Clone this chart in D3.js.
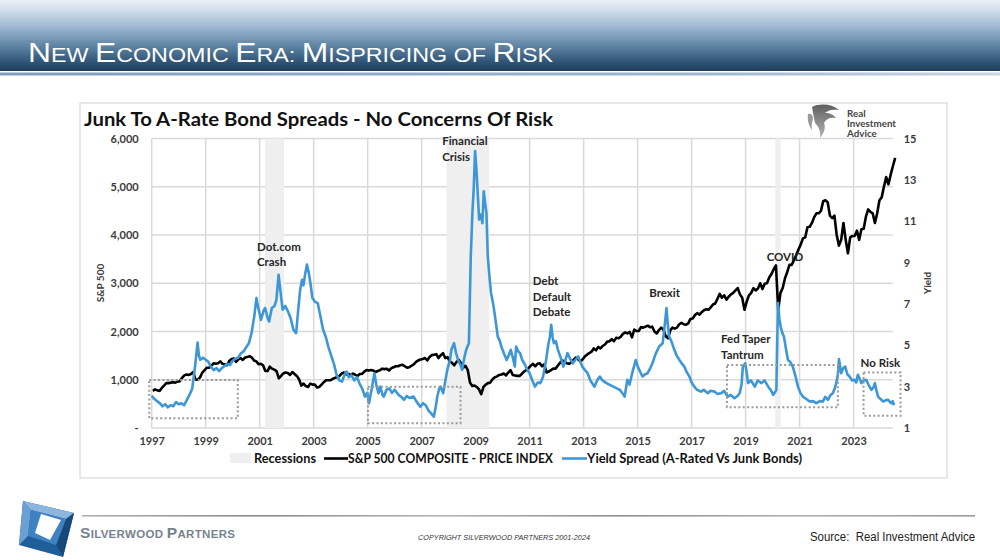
<!DOCTYPE html>
<html><head><meta charset="utf-8">
<script src="https://cdn.jsdelivr.net/npm/d3@7"></script>
<style>html,body{margin:0;padding:0;background:#fff;} svg{display:block;}</style>
</head><body>
<svg id="c" width="1000" height="560"></svg>
<script>
// ---------------- DATA ----------------
const yearTicks = [1997,1999,2001,2003,2005,2007,2009,2011,2013,2015,2017,2019,2021,2023];
const spxTicks = [0,1000,2000,3000,4000,5000,6000];
const yieldTicks = [1,3,5,7,9,11,13,15];
const recessions = [[2001.2,2001.9],[2007.92,2009.5],[2020.1,2020.3]];
const spxStartYear = 1997; // monthly values, Jan 1997 onward
const spxMonthly = [
 770,800,780,770,830,880,930,930,940,950,940,960,
 970,1040,1090,1110,1100,1120,1160,1000,1000,1050,1150,1200,
 1250,1250,1290,1340,1330,1340,1380,1330,1320,1300,1390,1430,
 1440,1370,1420,1450,1410,1460,1470,1490,1460,1400,1380,1320,
 1330,1300,1180,1180,1270,1230,1210,1180,1030,1080,1130,1150,
 1140,1100,1160,1120,1080,1010,880,920,870,850,920,900,
 900,840,850,900,950,990,990,990,1020,1040,1050,1080,
 1130,1150,1110,1120,1090,1130,1100,1080,1120,1120,1170,1200,
 1190,1200,1190,1160,1180,1200,1230,1220,1230,1190,1240,1260,
 1280,1280,1300,1310,1280,1250,1260,1290,1320,1370,1400,1420,
 1430,1450,1400,1470,1510,1520,1530,1450,1510,1550,1450,1470,
 1380,1350,1300,1370,1410,1340,1250,1290,1200,940,870,880,
 850,800,700,850,900,930,940,1010,1050,1070,1100,1110,
 1130,1090,1150,1200,1100,1090,1080,1080,1120,1170,1200,1240,
 1290,1330,1280,1330,1340,1280,1320,1150,1170,1200,1230,1230,
 1290,1350,1400,1380,1340,1330,1360,1410,1460,1430,1380,1420,
 1480,1520,1550,1580,1650,1610,1680,1650,1700,1730,1790,1800,
 1840,1800,1870,1860,1890,1950,1980,1960,1990,1880,2040,2010,
 2010,2090,2080,2100,2120,2090,2100,2000,1960,2030,2080,2040,
 1900,1860,2020,2080,2060,2080,2150,2180,2150,2140,2170,2260,
 2270,2340,2380,2350,2400,2440,2460,2450,2500,2560,2580,2680,
 2780,2700,2750,2660,2720,2770,2800,2850,2900,2770,2700,2450,
 2620,2750,2800,2900,2850,2890,3000,2880,2990,3000,3120,3190,
 3290,3370,2450,2800,2900,3100,3230,3380,3380,3480,3580,3700,
 3800,3930,3950,4160,4170,4250,4370,4450,4450,4500,4700,4720,
 4680,4400,4350,4400,4000,3780,3900,4250,3900,3620,3950,3980,
 3980,4090,3900,4120,4130,4380,4530,4480,4450,4250,4450,4720,
 4780,5000,5200,5050,5250,5430,5600
];
const spread = [
 [1997.0,2.55],[1997.1,2.4],[1997.2,2.3],[1997.3,2.2],[1997.4,2.05],[1997.5,2.15],[1997.6,2.0],[1997.7,2.1],[1997.8,2.05],[1997.9,2.25],
 [1998.0,2.15],[1998.1,2.2],[1998.2,2.1],[1998.3,2.35],[1998.4,2.6],[1998.5,2.9],[1998.6,3.9],[1998.7,5.13],[1998.75,4.5],[1998.8,4.3],[1998.9,4.4],
 [1999.0,4.3],[1999.1,4.2],[1999.2,3.95],[1999.3,3.8],[1999.4,3.9],[1999.5,3.75],[1999.6,3.9],[1999.7,4.0],[1999.8,4.1],[1999.9,4.05],
 [2000.0,4.25],[2000.1,4.35],[2000.2,4.4],[2000.3,4.6],[2000.4,4.7],[2000.5,4.9],[2000.6,5.1],[2000.7,5.6],[2000.8,6.4],[2000.88,7.28],[2000.95,6.8],
 [2001.05,6.23],[2001.15,6.7],[2001.2,6.8],[2001.3,6.3],[2001.35,6.15],[2001.45,6.8],[2001.55,6.9],[2001.62,7.2],[2001.7,8.41],[2001.78,7.5],[2001.85,6.72],[2001.95,6.9],
 [2002.05,6.63],[2002.15,6.3],[2002.25,5.75],[2002.35,5.59],[2002.42,6.6],[2002.5,7.69],[2002.57,8.17],[2002.62,7.9],[2002.68,8.4],[2002.75,8.9],[2002.82,8.5],[2002.88,8.0],[2002.95,7.3],
 [2003.05,7.1],[2003.15,7.04],[2003.25,6.4],[2003.35,5.75],[2003.45,5.4],[2003.55,4.9],[2003.65,4.5],[2003.75,4.1],[2003.85,3.57],[2003.95,3.3],
 [2004.05,3.24],[2004.15,3.6],[2004.22,3.73],[2004.3,3.45],[2004.4,3.55],[2004.5,3.3],[2004.6,3.45],[2004.7,3.15],[2004.8,2.9],[2004.9,2.52],[2004.98,2.7],
 [2005.05,2.2],[2005.15,2.9],[2005.25,3.65],[2005.32,3.1],[2005.4,2.68],[2005.47,3.0],[2005.55,2.6],[2005.6,2.52],[2005.7,2.85],[2005.8,2.92],[2005.9,2.7],
 [2006.0,2.85],[2006.05,2.76],[2006.15,2.6],[2006.25,2.5],[2006.35,2.36],[2006.45,2.55],[2006.55,2.45],[2006.7,2.52],[2006.8,2.3],[2006.95,2.03],
 [2007.05,2.2],[2007.15,2.1],[2007.25,1.85],[2007.35,1.71],[2007.45,1.55],[2007.52,2.0],[2007.58,2.52],[2007.65,2.9],[2007.7,3.0],[2007.8,2.68],[2007.88,3.3],[2007.95,3.81],
 [2008.05,4.3],[2008.1,4.78],[2008.2,5.1],[2008.28,4.6],[2008.35,4.29],[2008.45,4.0],[2008.5,3.81],[2008.58,4.4],[2008.65,4.78],[2008.75,5.1],[2008.82,9.3],[2008.88,11.4],[2008.93,12.6],[2008.98,14.39],
 [2009.03,13.5],[2009.07,12.53],[2009.13,11.08],[2009.2,11.32],[2009.25,10.9],[2009.3,12.45],[2009.35,11.9],[2009.4,11.4],[2009.45,9.3],[2009.52,8.2],[2009.57,7.53],[2009.65,7.0],[2009.7,6.56],[2009.77,5.9],[2009.82,5.42],[2009.9,5.2],[2009.95,4.94],
 [2010.05,4.6],[2010.15,4.29],[2010.22,4.5],[2010.3,4.78],[2010.38,4.4],[2010.45,3.97],[2010.5,4.94],[2010.58,4.7],[2010.65,4.62],[2010.72,4.3],[2010.8,4.13],[2010.9,3.85],
 [2011.0,3.65],[2011.1,3.3],[2011.2,3.0],[2011.3,3.2],[2011.4,3.17],[2011.5,3.49],[2011.6,4.2],[2011.7,5.1],[2011.75,5.4],[2011.8,5.99],[2011.85,5.4],[2011.9,5.1],[2011.97,5.2],
 [2012.05,4.78],[2012.15,4.4],[2012.25,3.97],[2012.33,4.3],[2012.4,4.62],[2012.5,4.35],[2012.6,4.13],[2012.7,4.3],[2012.8,4.46],[2012.88,4.2],[2012.95,3.97],
 [2013.05,3.8],[2013.15,3.65],[2013.25,3.3],[2013.4,3.0],[2013.5,3.3],[2013.6,3.49],[2013.7,3.3],[2013.85,3.17],[2013.95,3.1],
 [2014.1,3.0],[2014.25,2.9],[2014.35,2.84],[2014.45,2.65],[2014.52,2.52],[2014.62,3.33],[2014.7,3.1],[2014.8,3.65],[2014.93,4.29],
 [2015.0,4.0],[2015.06,3.81],[2015.18,3.49],[2015.28,3.6],[2015.37,3.65],[2015.47,3.9],[2015.55,4.13],[2015.62,4.4],[2015.68,4.62],[2015.8,4.94],[2015.93,5.1],
 [2016.0,5.9],[2016.07,6.8],[2016.12,6.0],[2016.17,5.42],[2016.25,5.2],[2016.36,4.78],[2016.45,4.5],[2016.55,4.29],[2016.65,4.1],[2016.73,3.97],[2016.82,3.7],[2016.92,3.49],
 [2017.0,3.2],[2017.1,3.0],[2017.2,2.85],[2017.35,2.76],[2017.45,2.85],[2017.6,2.68],[2017.7,2.8],[2017.85,2.76],[2017.95,2.65],
 [2018.1,2.68],[2018.2,2.8],[2018.34,2.52],[2018.45,2.6],[2018.59,2.44],[2018.7,2.55],[2018.78,2.68],[2018.85,3.1],[2018.9,3.97],[2018.99,4.13],
 [2019.05,3.6],[2019.09,3.17],[2019.2,3.3],[2019.34,3.0],[2019.45,3.3],[2019.59,3.17],[2019.7,3.3],[2019.84,3.0],[2019.95,2.8],
 [2020.02,2.6],[2020.1,2.75],[2020.14,2.84],[2020.2,7.04],[2020.25,6.3],[2020.3,5.91],[2020.36,5.6],[2020.42,5.42],[2020.5,4.8],[2020.57,4.29],[2020.65,4.2],[2020.75,3.97],[2020.85,3.5],[2020.94,3.0],
 [2021.03,2.7],[2021.12,2.52],[2021.25,2.4],[2021.37,2.28],[2021.5,2.3],[2021.62,2.2],[2021.75,2.3],[2021.86,2.28],[2021.95,2.5],
 [2022.05,2.36],[2022.15,2.6],[2022.23,2.68],[2022.3,2.9],[2022.36,3.17],[2022.42,3.6],[2022.46,4.33],[2022.54,3.65],[2022.62,3.9],[2022.69,3.97],[2022.77,3.6],[2022.85,3.49],[2022.95,3.3],
 [2023.04,3.33],[2023.1,3.2],[2023.16,3.57],[2023.22,3.4],[2023.29,3.17],[2023.38,3.3],[2023.47,3.33],[2023.55,3.1],[2023.66,2.84],[2023.73,2.95],[2023.79,3.17],[2023.85,2.8],[2023.91,2.52],
 [2024.0,2.4],[2024.1,2.28],[2024.2,2.35],[2024.28,2.36],[2024.35,2.25],[2024.4,2.2],[2024.45,2.3],[2024.5,2.1]
];
const annotationLabels = [
 {lines:["Dot.com","Crash"], year:2000.9, value:3670},
 {lines:["Financial","Crisis"], year:2007.76, value:5855},
 {lines:["Debt","Default","Debate"], year:2011.12, value:2959},
 {lines:["Brexit"], year:2015.43, value:2717},
 {lines:["COVID"], year:2019.78, value:3461},
 {lines:["Fed Taper","Tantrum"], year:2018.09, value:1752},
 {lines:["No Risk"], year:2023.26, value:1256}
];
const riskBoxes = [
 [1996.91,2000.19,200,993],
 [2005.01,2008.44,97,855],
 [2018.31,2022.42,428,1304],
 [2023.37,2024.74,254,1152]
];
const legendLabels = ["Recessions","S&P 500 COMPOSITE - PRICE INDEX","Yield Spread (A-Rated Vs Junk Bonds)"];

// ---------------- DRAW ----------------
const svg = d3.select("#c");
const defs = svg.append("defs");
const CH = "Lato, 'Open Sans', sans-serif";

// header
const hg = defs.append("linearGradient").attr("id","hdr").attr("x1",0).attr("y1",0).attr("x2",0).attr("y2",1);
[[0,"#eaf0f6"],[0.15,"#cfdcea"],[0.38,"#9db8d1"],[0.65,"#5e83a3"],[0.85,"#34597a"],[1,"#1b3d5a"]].forEach(s=>hg.append("stop").attr("offset",s[0]).attr("stop-color",s[1]));
svg.append("rect").attr("x",0).attr("y",0).attr("width",1000).attr("height",71).attr("fill","url(#hdr)");
svg.append("rect").attr("x",0).attr("y",71).attr("width",1000).attr("height",1.5).attr("fill","#ffffff");
const hl = defs.append("linearGradient").attr("id","hl").attr("x1",0).attr("x2",1);
[[0,"#7f9ebd"],[0.7,"#9fb7cf"],[1,"#c9d6e3"]].forEach(s=>hl.append("stop").attr("offset",s[0]).attr("stop-color",s[1]));
svg.append("rect").attr("x",0).attr("y",72.5).attr("width",1000).attr("height",3).attr("fill","url(#hl)");

const head = svg.append("text").attr("x",28).attr("y",62).attr("fill","#ffffff")
  .style("font-family","'Liberation Sans Narrow','Liberation Sans',Arial,sans-serif");
const headParts = [["N",1],["EW ",0],["E",1],["CONOMIC ",0],["E",1],["RA: ",0],["M",1],["ISPRICING OF ",0],["R",1],["ISK",0]];
headParts.forEach(p=>head.append("tspan").text(p[0]).style("font-size",p[1]?"28px":"20.5px"));
head.attr("textLength",525).attr("lengthAdjust","spacingAndGlyphs");

// chart box
svg.append("rect").attr("x",80).attr("y",103).attr("width",867).attr("height",375)
  .attr("fill","#fff").attr("stroke","#d9d9d9").attr("stroke-width",1.2);

svg.append("text").attr("x",84).attr("y",125.5).text("Junk To A-Rate Bond Spreads - No Concerns Of Risk")
  .style("font-family",CH).style("font-weight","bold").style("font-size","18.5px").attr("fill","#111")
  .attr("textLength",469).attr("lengthAdjust","spacingAndGlyphs");

// scales
const x = d3.scaleLinear().domain([1997,2024.45]).range([151.7,892.7]);
const yL = d3.scaleLinear().domain([0,6000]).range([428,138.5]);
const yR = d3.scaleLinear().domain([1,15]).range([428,138.5]);
const [x0,x1] = x.range();

// gridlines
const grid = svg.append("g");
grid.selectAll("line.h").data(spxTicks).join("line")
  .attr("x1",x0).attr("x2",x1).attr("y1",d=>yL(d)).attr("y2",d=>yL(d))
  .attr("stroke","#d9d9d9").attr("stroke-width",1.5);
grid.selectAll("line.v").data(yearTicks).join("line")
  .attr("x1",d=>x(d)).attr("x2",d=>x(d)).attr("y1",yL(6000)).attr("y2",yL(0))
  .attr("stroke","#d9d9d9").attr("stroke-width",1.5);

// recessions
svg.append("g").selectAll("rect").data(recessions).join("rect")
  .attr("x",d=>x(d[0])).attr("width",d=>x(d[1])-x(d[0]))
  .attr("y",yL(6000)).attr("height",yL(0)-yL(6000)).attr("fill","#efefef");

// axes
const axStyle = g=>{ g.select(".domain").remove(); g.selectAll("text").style("font-family",CH).style("font-weight","bold").style("font-size","11px").attr("fill","#3a3a3a"); };
svg.append("g").attr("transform",`translate(${x0},0)`)
  .call(d3.axisLeft(yL).tickValues(spxTicks).tickSize(0).tickPadding(13).tickFormat(d=>d===0?"-":d3.format(",")(d))).call(axStyle);
svg.append("g").attr("transform",`translate(${x1},0)`)
  .call(d3.axisRight(yR).tickValues(yieldTicks).tickSize(0).tickPadding(11).tickFormat(d3.format("d"))).call(axStyle);
svg.append("g").attr("transform",`translate(0,${yL(0)})`)
  .call(d3.axisBottom(x).tickValues(yearTicks).tickSize(0).tickPadding(9).tickFormat(d3.format("d"))).call(axStyle);

svg.append("text").attr("transform","translate(104,283) rotate(-90)").attr("text-anchor","middle").text("S&P 500")
  .style("font-family",CH).style("font-weight","bold").style("font-size","10px").attr("fill","#3a3a3a");
svg.append("text").attr("transform","translate(931,283) rotate(-90)").attr("text-anchor","middle").text("Yield")
  .style("font-family",CH).style("font-weight","bold").style("font-size","10px").attr("fill","#3a3a3a");

// lines
const spxData = spxMonthly.map((v,i)=>[spxStartYear+(i+0.5)/12, v]);
svg.append("path").datum(spxData).attr("fill","none").attr("stroke","#000").attr("stroke-width",2.6)
  .attr("stroke-linejoin","round").attr("d",d3.line().x(d=>x(d[0])).y(d=>yL(d[1])));
svg.append("path").datum(spread).attr("fill","none").attr("stroke","#3d97d6").attr("stroke-width",2.6)
  .attr("stroke-linejoin","round").attr("d",d3.line().x(d=>x(d[0])).y(d=>yR(d[1])));

// dotted boxes
svg.append("g").selectAll("rect").data(riskBoxes).join("rect")
  .attr("x",d=>x(d[0])).attr("width",d=>x(d[1])-x(d[0]))
  .attr("y",d=>yL(d[3])).attr("height",d=>yL(d[2])-yL(d[3]))
  .attr("fill","none").attr("stroke","#9a9a9a").attr("stroke-width",2).attr("stroke-dasharray","2,2.4");

// annotations
const ann = svg.append("g").selectAll("text").data(annotationLabels).join("text")
  .attr("x",d=>x(d.year)).attr("y",d=>yL(d.value))
  .style("font-family",CH).style("font-weight","bold").style("font-size","11.5px").attr("fill","#262626");
ann.selectAll("tspan").data(d=>d.lines.map((t,i)=>({t,i,x:x(d.year)}))).join("tspan")
  .attr("x",d=>d.x).attr("dy",d=>d.i?15.5:0).text(d=>d.t);

// legend
const lg = svg.append("g").style("font-family",CH).style("font-weight","bold").style("font-size","13px").attr("fill","#111");
lg.append("rect").attr("x",230).attr("y",453).attr("width",21).attr("height",10).attr("fill","#efefef");
lg.append("text").attr("x",254).attr("y",463).text(legendLabels[0]).attr("textLength",62).attr("lengthAdjust","spacingAndGlyphs");
lg.append("line").attr("x1",324).attr("x2",348).attr("y1",458.5).attr("y2",458.5).attr("stroke","#000").attr("stroke-width",2.6);
lg.append("text").attr("x",348).attr("y",463).text(legendLabels[1]).attr("textLength",205).attr("lengthAdjust","spacingAndGlyphs");
lg.append("line").attr("x1",562).attr("x2",587).attr("y1",458.5).attr("y2",458.5).attr("stroke","#3d97d6").attr("stroke-width",2.6);
lg.append("text").attr("x",587).attr("y",463).text(legendLabels[2]).attr("textLength",215).attr("lengthAdjust","spacingAndGlyphs");

// RIA logo
const ria = svg.append("g");
const rg = defs.append("linearGradient").attr("id","ria").attr("x1",0).attr("y1",0).attr("x2",0).attr("y2",1);
[[0,"#5f5f5f"],[1,"#b5b5b5"]].forEach(s=>rg.append("stop").attr("offset",s[0]).attr("stop-color",s[1]));
ria.append("path").attr("d","M812,107 C820,103 832,104 839,110 C833,109 828,110 825,113 C830,113 834,115 836,118 C830,117 826,119 824,123 C826,128 824,133 820,138 C821,132 819,127 815,123 C814,118 813,113 812,107 Z").attr("fill","url(#ria)");
ria.append("path").attr("d","M808,114 C811,113 813,115 813,119 C812,122 811,126 812,130 C809,126 807,120 808,114 Z").attr("fill","#9a9a9a");
ria.append("text").attr("x",847).attr("y",116.5).style("font-family",CH).style("font-weight","bold").style("font-size","9.8px").attr("fill","#444")
  .selectAll("tspan").data(["Real","Investment","Advice"]).join("tspan").attr("x",847).attr("dy",(d,i)=>i?10.2:0).text(d=>d);

// footer
const fl = defs.append("linearGradient").attr("id","fl").attr("x1",0).attr("x2",1);
[[0,"#b0b0b0"],[0.2,"#8a8a8a"],[0.4,"#b5b5b5"],[0.6,"#8f8f8f"],[0.8,"#b0b0b0"],[1,"#9a9a9a"]].forEach(s=>fl.append("stop").attr("offset",s[0]).attr("stop-color",s[1]));
svg.append("rect").attr("x",82).attr("y",515).attr("width",893).attr("height",1.6).attr("fill","url(#fl)");

const logo = svg.append("g");
logo.append("polygon").attr("points","23,501 74,513 63,557 19,545").attr("fill","#1f5e98");
logo.append("polygon").attr("points","23,501 74,513 66,519 31,510").attr("fill","#8db6de");
logo.append("polygon").attr("points","23,501 31,510 28,536 19,545").attr("fill","#6aa0d4");
logo.append("polygon").attr("points","66,519 74,513 63,557 56,545").attr("fill","#16497a");
logo.append("polygon").attr("points","31,510 66,519 56,545 28,536").attr("fill","#3f82c2");
logo.append("polygon").attr("points","41,514 61,520 50,540 35,533").attr("fill","#ffffff");

const sw = svg.append("text").attr("x",80).attr("y",537.5).attr("fill","#76838f")
  .style("font-family","'Liberation Sans',Arial,sans-serif").style("font-weight","bold");
[["S",1],["ILVERWOOD ",0],["P",1],["ARTNERS",0]].forEach(p=>sw.append("tspan").text(p[0]).style("font-size",p[1]?"15.5px":"11.5px"));
const swW = sw.node().getComputedTextLength();
sw.style("letter-spacing", ((155 - swW)/18).toFixed(2)+"px");

svg.append("text").attr("x",418).attr("y",540).text("COPYRIGHT SILVERWOOD PARTNERS 2001-2024")
  .style("font-family","'Liberation Sans',Arial,sans-serif").style("font-style","italic").style("font-size","7px").attr("fill","#333")
  .attr("textLength",172).attr("lengthAdjust","spacingAndGlyphs");
svg.append("text").attr("x",810).attr("y",541).text("Source:\u00a0 Real Investment Advice")
  .style("font-family","'Liberation Sans Narrow','Liberation Sans',Arial,sans-serif").style("font-size","12px").attr("fill","#222")
  .attr("textLength",165).attr("lengthAdjust","spacingAndGlyphs");
</script>
</body></html>
